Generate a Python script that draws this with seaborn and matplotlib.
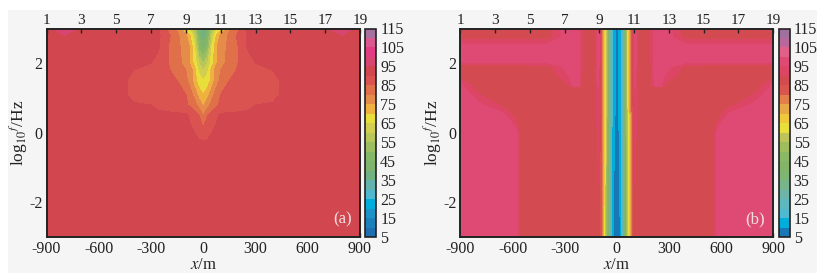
import numpy as np
import seaborn as sns
import matplotlib.pyplot as plt
from matplotlib.colors import BoundaryNorm, ListedColormap
from matplotlib.patches import Rectangle

sns.set_theme(style="ticks")
plt.rcParams['font.family'] = ['Liberation Serif', 'DejaVu Serif']
plt.rcParams['mathtext.fontset'] = 'stix'
plt.rcParams['axes.unicode_minus'] = False

# colour bands, one per 5 units from 5 up to 110
levels = list(range(5, 120, 5))
colors_a = ['#1f6fb0', '#1b80bc', '#1b93c8', '#00aedc', '#4fb8ce', '#63b3ac', '#70b184', '#7fb46e',
            '#84b766', '#9cbe60', '#b8c65a', '#d2ce50', '#e8df3b', '#efb23f', '#e58c4a', '#e0704a',
            '#da5350', '#d2474f', '#d84570', '#e23b82', '#d9588e', '#a8709f']
colors_b = ['#1878b5', '#00aedc', '#4fb9cf', '#5fb7c0', '#6db5a8', '#78b58a', '#7fb573', '#82b568',
            '#8ab864', '#a0bd5e', '#bfc45a', '#e8df3b', '#f0c83c', '#e8a848', '#e27f4a', '#d9564e',
            '#d34b50', '#dc4563', '#df4a75', '#e0608a', '#b8689a', '#a0709f']

ticks_x = [-900, -600, -300, 0, 300, 600, 900]
ticks_y = [-2, 0, 2]
stations = [1, 3, 5, 7, 9, 11, 13, 15, 17, 19]
station_x = [-900, -700, -500, -300, -100, 100, 300, 500, 700, 900]

# panel (a): left half of each profile, the section is symmetric about x = 0
x_a = [-900, -800, -700, -600, -450, -400, -300, -260, -200, -150, -100, -75, -50, -25, 0]
logf_a = [-3, -0.3, 0, 0.5, 0.8, 1.1, 1.5, 1.8, 2, 2.5, 2.8, 3]
a_m30 = [91, 91, 91, 91, 91, 91, 91, 91, 91, 91, 91, 91, 91, 91, 91]
a_m03 = [91, 91, 91, 91, 91, 91, 91, 91, 91, 91, 91, 91, 91, 91, 91]
a_p00 = [91, 91, 91, 91, 91, 91, 91, 91, 91, 91, 91, 91, 90, 88, 87]
a_p05 = [91, 91, 91, 91, 91, 91, 91, 91, 91, 91, 91, 89, 87, 85, 80]
a_p08 = [91, 91, 91, 91, 91, 91, 90, 89, 88, 87, 86, 84, 82, 78, 74]
a_p11 = [91, 91, 91, 91, 91, 87, 87, 87, 87, 87, 85, 82, 78, 73, 70]
a_p15 = [91, 91, 91, 91, 91, 87, 87, 87, 86, 85, 81, 78, 72, 67, 65]
a_p18 = [91, 91, 91, 91, 91, 90, 88, 87, 86, 81, 80, 78, 72, 64, 60]
a_p20 = [91, 91, 91, 91, 91, 91, 90, 88, 85, 81, 79, 74, 68, 60, 55]
a_p25 = [91, 91, 91, 91, 91, 91, 91, 91, 85, 81, 78, 74, 65, 48, 42]
a_p28 = [91, 95, 91, 91, 91, 91, 91, 91, 86, 81, 76, 70, 60, 45, 35]
a_p30 = [91, 100, 94, 91, 91, 91, 91, 91, 84, 79, 67, 62, 55, 42, 28]

# panel (b): left half again
x_b = [-900, -800, -650, -580, -550, -400, -300, -250, -220, -190, -150, -125, -105, -87, -73, -58, -45, -30, -20, 0]
logf_b = [-3, 0, 0.5, 0.8, 1.3, 1.35, 1.6, 1.9, 2.05, 2.5, 2.75, 3]
b_m30 = [97, 97, 97, 97, 86, 86, 86, 86, 86, 86, 86, 88, 89, 78, 64, 50, 32, 15, 10, 7]
b_p00 = [97, 97, 97, 97, 86, 86, 86, 86, 86, 86, 86, 88, 91, 79, 66, 52, 33, 16, 11, 8]
b_p05 = [97, 97, 97, 87, 86, 86, 86, 86, 86, 86, 86, 88, 93, 79, 67, 53, 33, 17, 12, 8]
b_p08 = [97, 97, 88, 86, 86, 86, 86, 86, 86, 86, 86, 88, 94, 80, 68, 54, 33, 18, 12, 8]
b_p13 = [97, 87, 86, 86, 86, 86, 86, 86, 86, 86, 86, 88, 95, 80, 68, 54, 33, 18, 12, 8]
b_p135 = [97, 87, 86, 86, 86, 86, 86, 96, 96, 86, 86, 88, 96, 80, 68, 54, 33, 18, 12, 8]
b_p16 = [88, 86, 86, 86, 86, 86, 92, 97, 97, 86, 86, 88, 97, 80, 68, 54, 33, 18, 12, 8]
b_p19 = [86, 86, 86, 86, 86, 88, 96, 97, 97, 87, 86, 88, 98, 80, 68, 54, 33, 18, 12, 8]
b_p205 = [97, 97, 97, 97, 97, 97, 97, 97, 97, 88, 86, 88, 99, 80, 68, 54, 33, 18, 12, 8]
b_p25 = [97, 97, 97, 97, 97, 97, 97, 97, 97, 88, 86, 88, 100, 80, 68, 54, 33, 18, 12, 8]
b_p275 = [87, 87, 87, 87, 87, 87, 97, 97, 97, 88, 86, 88, 100, 80, 68, 54, 33, 18, 12, 8]
b_p30 = [87, 87, 87, 87, 87, 88, 97, 97, 97, 88, 86, 88, 100, 80, 68, 54, 33, 18, 12, 8]


def mirrored(half_x, half_rows):
    # profile is read on the left side only, right side is its mirror image
    half = np.array(half_rows, dtype=float)
    full_x = np.r_[half_x, -np.array(half_x[-2::-1])]
    return full_x, np.hstack([half, half[:, -2::-1]])


def draw_panel(fig, box, cbox, x, logf, rows, colors, tag):
    W, H = fig.get_size_inches() * fig.dpi
    ax = fig.add_axes([box[0] / W, 1 - box[3] / H, (box[2] - box[0]) / W, (box[3] - box[1]) / H])
    cax = fig.add_axes([cbox[0] / W, 1 - cbox[3] / H, (cbox[2] - cbox[0]) / W, (cbox[3] - cbox[1]) / H])
    cmap = ListedColormap(sns.color_palette(colors))
    norm = BoundaryNorm(levels, cmap.N)
    full_x, values = mirrored(x, rows)
    cf = ax.contourf(full_x, logf, values, levels=levels, cmap=cmap, norm=norm)
    ax.set_xlim(-900, 900)
    ax.set_ylim(-3, 3)
    ax.set_xticks(ticks_x)
    ax.set_yticks(ticks_y)
    ax.set_xticklabels([str(t) for t in ticks_x])
    ax.set_yticklabels([str(t) for t in ticks_y])
    ax.tick_params(direction='in', length=3, width=1, labelsize=11.5, pad=3, color='#222222', labelcolor='#222222')
    ax.set_xlabel('$x$/m', fontsize=12, labelpad=0, color='#222222')
    ax.set_ylabel(r'log$_{10}$$^f$/Hz', fontsize=12.5, labelpad=-1, color='#222222')
    for s in ax.spines.values():
        s.set_linewidth(1.2)
        s.set_color('#222222')
    top = ax.twiny()
    top.set_xlim(-900, 900)
    top.set_xticks(station_x)
    top.set_xticklabels([str(s) for s in stations])
    top.tick_params(direction='in', length=3, width=1, labelsize=11, pad=1, color='#222222', labelcolor='#222222')
    for s in top.spines.values():
        s.set_linewidth(1.2)
        s.set_color('#222222')
    ax.text(0.975, 0.045, tag, transform=ax.transAxes, ha='right', va='bottom', fontsize=12, color='#f0e0e0')

    cb = fig.colorbar(cf, cax=cax, ticks=levels[::2], spacing='proportional')
    cb.minorticks_off()
    cb.ax.set_yticklabels([str(v) for v in levels[::2]])
    cb.ax.tick_params(length=0, labelsize=11.5, pad=3, labelcolor='#222222')
    cb.outline.set_linewidth(1.2)
    cb.outline.set_edgecolor('#222222')


fig = plt.figure(figsize=(8.39, 2.79), dpi=100)
fig.patches.append(Rectangle((8 / 839, 1 - 273 / 279), 809 / 839, 263 / 279, transform=fig.transFigure,
                             facecolor='#f5f5f5', edgecolor='none', zorder=-1, figure=fig))

rows_a = [a_m30, a_m03, a_p00, a_p05, a_p08, a_p11, a_p15, a_p18, a_p20, a_p25, a_p28, a_p30]
rows_b = [b_m30, b_p00, b_p05, b_p08, b_p13, b_p135, b_p16, b_p19, b_p205, b_p25, b_p275, b_p30]
draw_panel(fig, (46.5, 28.5, 360, 237), (364.5, 28.5, 376, 237), x_a, logf_a, rows_a, colors_a, '(a)')
draw_panel(fig, (460.5, 28.5, 773, 237), (778.5, 28.5, 789.5, 237), x_b, logf_b, rows_b, colors_b, '(b)')

fig.savefig('out.png', dpi=100)
